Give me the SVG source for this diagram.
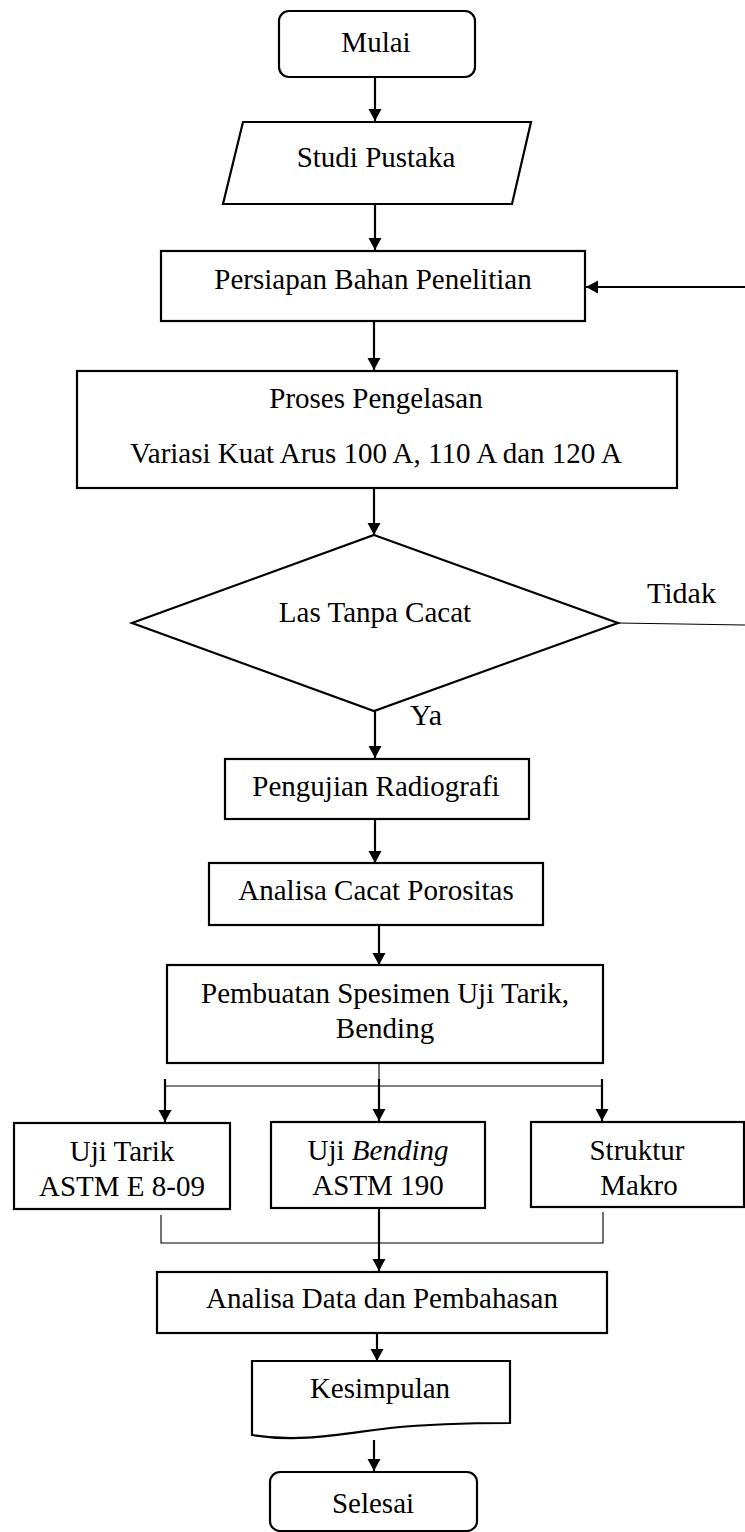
<svg xmlns="http://www.w3.org/2000/svg" width="745" height="1532" viewBox="0 0 745 1532">
<style>
.box{fill:#fff;stroke:#000;stroke-width:2.2}
.t{font-family:"Liberation Serif","Times New Roman",serif;font-size:29px;fill:#000;text-anchor:middle}
.lbl{font-family:"Liberation Serif","Times New Roman",serif;font-size:30px;fill:#000}
.ar{stroke:#000;stroke-width:2.2;fill:none;marker-end:url(#ah)}
.thin{stroke:#000;stroke-width:1.1;fill:none}
</style>
<defs>
<marker id="ah" markerUnits="userSpaceOnUse" markerWidth="14" markerHeight="14" refX="12" refY="6.5" orient="auto">
<path d="M0,0 L12,6.5 L0,13 z" fill="#000"/>
</marker>
</defs>
<rect width="745" height="1532" fill="#fff"/>
<g id="connectors">
<line class="ar" x1="375" y1="77" x2="375" y2="121"/>
<line class="ar" x1="375" y1="204" x2="375" y2="250"/>
<line class="ar" x1="745" y1="287" x2="586" y2="287"/>
<line class="ar" x1="374" y1="321" x2="374" y2="370"/>
<line class="ar" x1="374" y1="488" x2="374" y2="535"/>
<line class="thin" x1="618" y1="623" x2="745" y2="625"/>
<line class="ar" x1="375" y1="711" x2="375" y2="758"/>
<line class="ar" x1="375" y1="819" x2="375" y2="863"/>
<line class="ar" x1="379" y1="925" x2="379" y2="965"/>
<line class="thin" x1="379" y1="1063" x2="379" y2="1086"/>
<line class="thin" x1="164" y1="1086" x2="602" y2="1086"/>
<line class="ar" x1="165" y1="1079" x2="165" y2="1122"/>
<line class="ar" x1="379" y1="1079" x2="379" y2="1121"/>
<line class="ar" x1="602" y1="1079" x2="602" y2="1121"/>
<polyline class="thin" points="161,1215 161,1243 603,1243 603,1212"/>
<line class="ar" x1="379" y1="1208" x2="379" y2="1271"/>
<line class="ar" x1="377" y1="1333" x2="377" y2="1361"/>
<line class="ar" x1="374" y1="1440" x2="374" y2="1471"/>
<text class="lbl" x="647" y="603">Tidak</text>
<text class="lbl" x="410" y="725">Ya</text>
</g>
<g id="mulai">
<rect class="box" x="279" y="11" width="196" height="66" rx="10"/>
<text class="t" x="376" y="52">Mulai</text>
</g>
<g id="studi-pustaka">
<polygon class="box" points="243,122 531,122 512,204 223,204"/>
<text class="t" x="376" y="167">Studi Pustaka</text>
</g>
<g id="persiapan">
<rect class="box" x="161" y="251" width="424" height="70"/>
<text class="t" x="373" y="289">Persiapan Bahan Penelitian</text>
</g>
<g id="proses">
<rect class="box" x="77" y="371" width="600" height="117"/>
<text class="t" x="376" y="408">Proses Pengelasan</text>
<text class="t" x="376" y="463">Variasi Kuat Arus 100 A, 110 A dan 120 A</text>
</g>
<g id="las-tanpa-cacat">
<polygon class="box" points="374,535 618,623 374,711 132,623"/>
<text class="t" x="375" y="622">Las Tanpa Cacat</text>
</g>
<g id="radiografi">
<rect class="box" x="225" y="759" width="304" height="60"/>
<text class="t" x="376" y="796">Pengujian Radiografi</text>
</g>
<g id="analisa-cacat">
<rect class="box" x="209" y="863" width="334" height="62"/>
<text class="t" x="376" y="900">Analisa Cacat Porositas</text>
</g>
<g id="pembuatan">
<rect class="box" x="167" y="965" width="436" height="98"/>
<text class="t" x="385" y="1003">Pembuatan Spesimen Uji Tarik,</text>
<text class="t" x="385" y="1038">Bending</text>
</g>
<g id="uji-tarik">
<rect class="box" x="14" y="1123" width="216" height="86"/>
<text class="t" x="122" y="1161">Uji Tarik</text>
<text class="t" x="122" y="1196">ASTM E 8-09</text>
</g>
<g id="uji-bending">
<rect class="box" x="271" y="1122" width="214" height="86"/>
<text class="t" x="378" y="1160">Uji <tspan font-style="italic">Bending</tspan></text>
<text class="t" x="378" y="1195">ASTM 190</text>
</g>
<g id="struktur-makro">
<rect class="box" x="531" y="1122" width="213" height="85"/>
<text class="t" x="637" y="1160">Struktur</text>
<text class="t" x="639" y="1195">Makro</text>
</g>
<g id="analisa-data">
<rect class="box" x="157" y="1272" width="450" height="61"/>
<text class="t" x="382" y="1308">Analisa Data dan Pembahasan</text>
</g>
<g id="kesimpulan">
<path class="box" d="M252,1361 L510,1361 L510,1423 C480,1423 440,1423 390,1428 C340,1434 300,1443 252,1435 Z"/>
<text class="t" x="380" y="1398">Kesimpulan</text>
</g>
<g id="selesai">
<rect class="box" x="270" y="1472" width="207" height="59" rx="10"/>
<text class="t" x="373" y="1513">Selesai</text>
</g>
</svg>
